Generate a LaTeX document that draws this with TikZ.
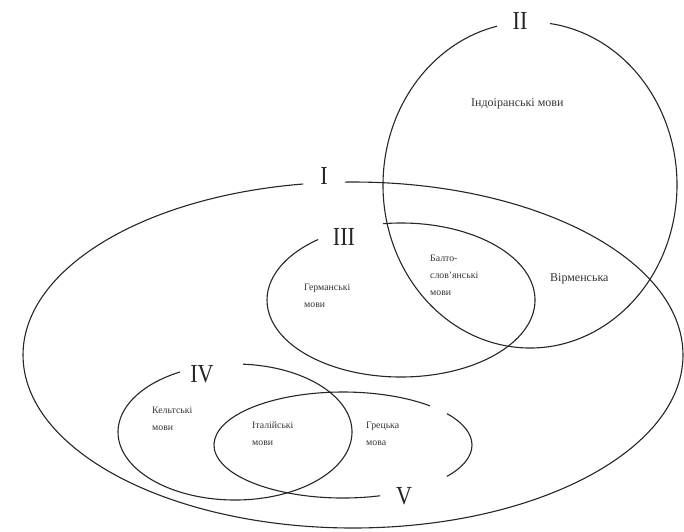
\documentclass[tikz,border=0pt]{standalone}
\usepackage{fontspec}
\setmainfont{Liberation Serif}
\newfontfamily\numfont[FakeStretch=0.85]{Liberation Serif}
\begin{document}
\begin{tikzpicture}[x=1pt,y=-1pt,
  contour/.style={draw=black!85, line width=1.1pt},
  numeral/.style={font=\numfont\fontsize{26}{26}\selectfont, inner sep=0pt, text=black!85},
  lang/.style={font=\fontsize{9.8}{17}\selectfont, align=left, inner sep=0pt, text=black!80},
  widelang/.style={lang, font=\fontsize{12}{17}\selectfont}]
\useasboundingbox (0,0) rectangle (684,531);
% centres of the sets
\coordinate (cI) at (353,355);
\coordinate (cII) at (530,185);
\coordinate (cIII) at (401,300);
\coordinate (cIV) at (235,432);
\coordinate (cV) at (343,445);
% I
\draw[contour] (cI) ++(-91.4:330 and 173) arc[start angle=-91.4, end angle=261.3, x radius=330, y radius=173];
% II
\draw[contour] (cII) ++(-82.2:147 and 163) arc[start angle=-82.2, end angle=257, x radius=147, y radius=163];
% III
\draw[contour] (cIII) ++(-97.7:134 and 77) arc[start angle=-97.7, end angle=231.8, x radius=134, y radius=77];
% IV
\draw[contour] (cIV) ++(-86.1:117 and 68) arc[start angle=-86.1, end angle=242, x radius=117, y radius=68];
% V
\draw[contour] (cV) ++(73.3:129 and 53) arc[start angle=73.3, end angle=312.4, x radius=129, y radius=53];
\draw[contour] (cV) ++(-36.3:129 and 53) arc[start angle=-36.3, end angle=36.3, x radius=129, y radius=53];
% numerals
\node[numeral] (nI) at (324,176) {I};
\node[numeral] (nII) at (520,21) {II};
\node[numeral] (nIII) at (344,237) {III};
\node[numeral] (nIV) at (202,374) {IV};
\node[numeral] (nV) at (404,496) {V};
% languages
\node[widelang, anchor=west] (indo) at (471,104) {Індоіранські мови};
\node[lang, anchor=north west] (germ) at (304,284) {Германські\\мови};
\node[lang, anchor=north west] (balto) at (430,255) {Балто-\\слов’янські\\мови};
\node[widelang, anchor=west] (arm) at (550,279) {Вірменська};
\node[lang, anchor=north west] (celt) at (152,407) {Кельтські\\мови};
\node[lang, anchor=north west] (ital) at (252,422) {Італійські\\мови};
\node[lang, anchor=north west] (greek) at (366,422) {Грецька\\мова};
\end{tikzpicture}
\end{document}
